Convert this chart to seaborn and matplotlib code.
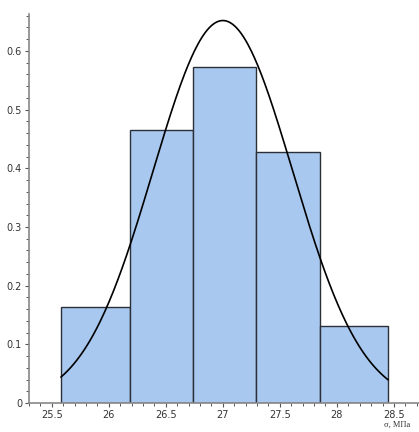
import numpy as np
import pandas as pd
import matplotlib
matplotlib.use('Agg')
import matplotlib.pyplot as plt
from matplotlib.ticker import MultipleLocator, FuncFormatter
import seaborn as sns

# histogram bins (sigma, MPa) and relative frequency density
bin_edges = [25.58, 26.19, 26.74, 27.29, 27.85, 28.45]
heights = [0.163, 0.465, 0.572, 0.428, 0.131]

# fitted normal curve parameters
mu = 27.0
sd = 0.612

centers = [(a + b) / 2 for a, b in zip(bin_edges[:-1], bin_edges[1:])]
df = pd.DataFrame({'sigma': centers, 'dens': heights})

xs = np.linspace(bin_edges[0], bin_edges[-1], 300)
curve = pd.DataFrame({'x': xs,
                      'y': np.exp(-0.5 * ((xs - mu) / sd) ** 2) / (sd * np.sqrt(2 * np.pi))})

sns.set_style('white')
fig = plt.figure(figsize=(4.19, 4.32), dpi=100)
ax = fig.add_axes([29 / 419, 1 - 403 / 432, 1 - 29 / 419, (403 - 14) / 432])

sns.histplot(data=df, x='sigma', weights='dens', bins=bin_edges, stat='count',
             color='#A8C8EF', alpha=1, edgecolor='#2a2f38', linewidth=1, ax=ax)
sns.lineplot(data=curve, x='x', y='y', color='black', linewidth=1.2, ax=ax)

ax.set_xlim(25.30, 28.72)
ax.set_ylim(0, 0.663)
ax.set_xlabel('')
ax.set_ylabel('')

for s in ['top', 'right']:
    ax.spines[s].set_visible(False)
for s in ['left', 'bottom']:
    ax.spines[s].set_color('#888888')
    ax.spines[s].set_linewidth(1.2)

ax.set_xticks([25.5, 26, 26.5, 27, 27.5, 28, 28.5])
ax.xaxis.set_minor_locator(MultipleLocator(0.1))
ax.set_yticks([0, 0.1, 0.2, 0.3, 0.4, 0.5, 0.6])
ax.yaxis.set_minor_locator(MultipleLocator(0.02))
ax.xaxis.set_major_formatter(FuncFormatter(lambda v, p: f'{v:g}'))
ax.yaxis.set_major_formatter(FuncFormatter(lambda v, p: f'{v:g}'))
ax.tick_params(which='both', direction='out', color='#555555', labelsize=7,
               labelcolor='#333333', bottom=True, left=True)
ax.tick_params(which='major', length=3, width=0.8, pad=2)
ax.tick_params(which='minor', length=2, width=0.7)

fig.text(397 / 419, 1 - 425 / 432, 'σ, МПа', family='Liberation Serif',
         fontsize=6, color='#333333', ha='center', va='center')

fig.savefig('out.png', dpi=100)
